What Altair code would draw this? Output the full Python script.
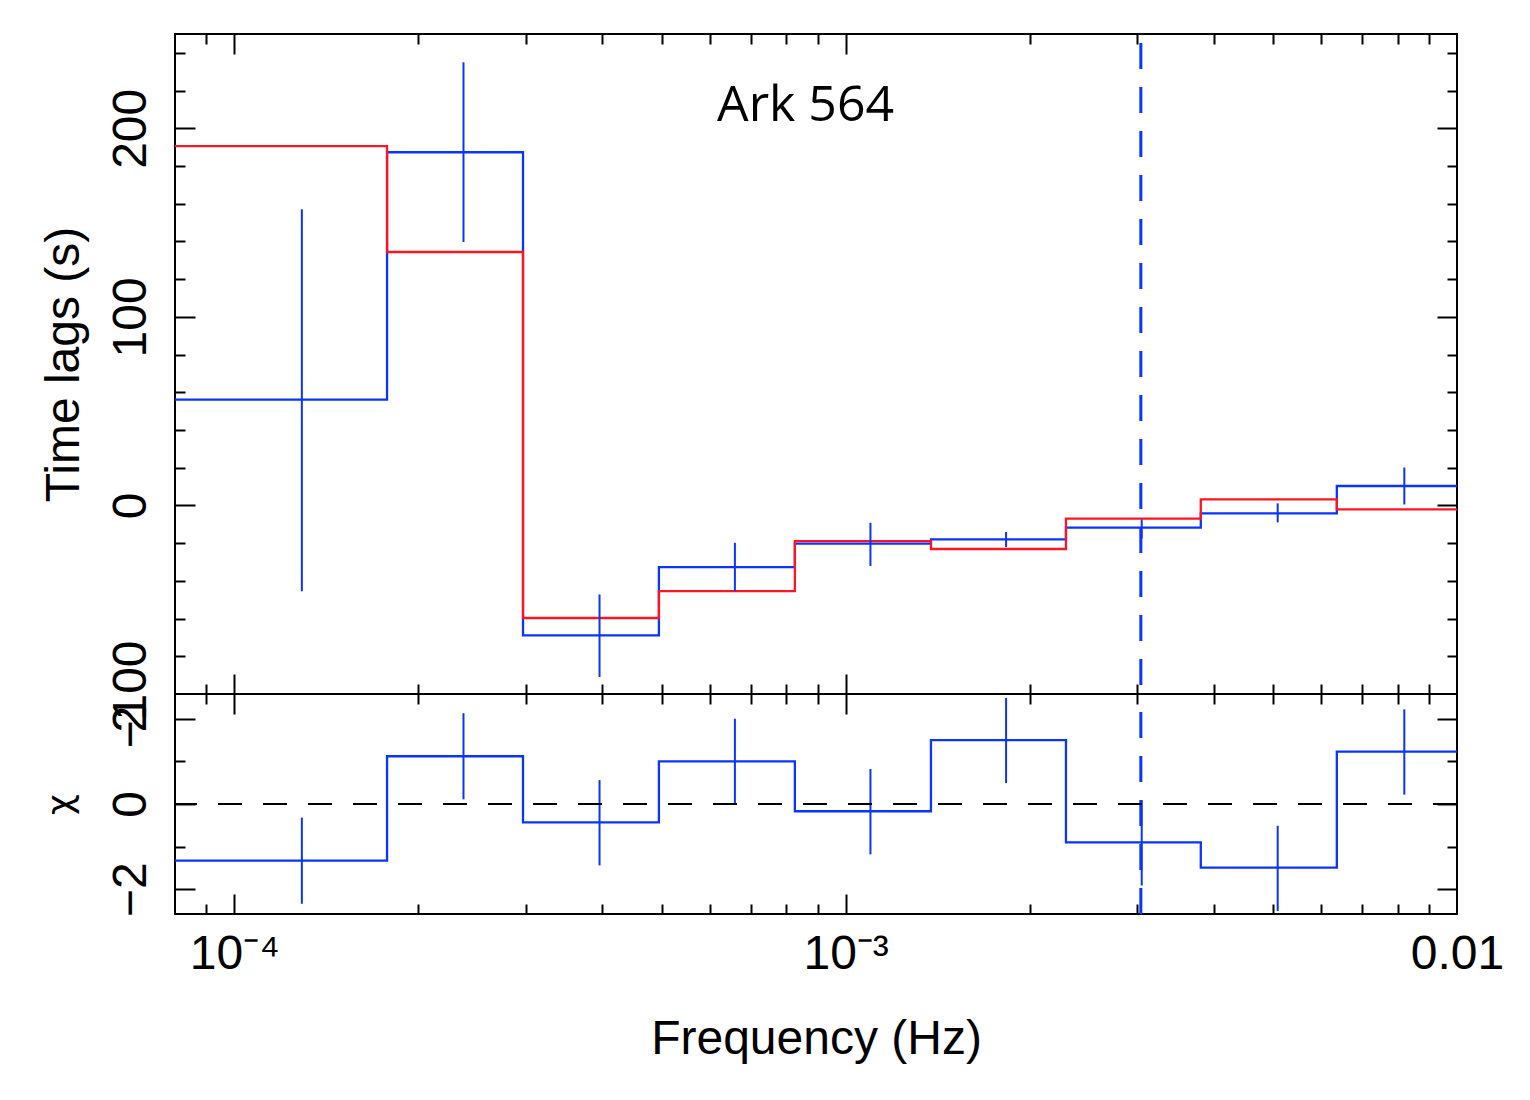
import json
import altair as alt
import pandas as pd

# ---------------- data ----------------
bin_edges = [8.0e-5, 1.778e-4, 2.967e-4, 4.95e-4, 8.26e-4, 1.379e-3, 2.293e-3, 3.81e-3, 6.36e-3, 1.0e-2]
bin_centers = [1.290e-4, 2.371e-4, 3.958e-4, 6.59e-4, 1.098e-3, 1.830e-3, 3.05e-3, 5.09e-3, 8.20e-3]

lag_data = [56.1, 187.3, -68.9, -32.7, -20.3, -18.0, -11.8, -4.2, 10.3]
lag_lo = [-45.5, 139.7, -91.0, -45.4, -32.1, -22.1, -17.5, -9.0, 0.5]
lag_hi = [157.1, 235.0, -47.2, -19.8, -9.2, -14.1, -7.4, 1.1, 20.1]
lag_model = [190.5, 134.4, -59.7, -45.4, -18.9, -23.1, -7.0, 3.2, -2.1]

chi_data = [-1.33, 1.12, -0.43, 1.00, -0.17, 1.50, -0.90, -1.49, 1.23]
chi_lo = [-2.34, 0.11, -1.44, 0.00, -1.18, 0.49, -1.91, -2.51, 0.22]
chi_hi = [-0.32, 2.13, 0.56, 2.00, 0.82, 2.49, 0.09, -0.51, 2.22]

vline_freq = [3.04e-3]
chi_zero = [0.0]

label_text = ["Ark 564"]
label_freq = [8.6e-4]
label_lag = [204.0]

x_label_values = [1e-4, 1e-3, 1e-2]
x_label_text = ["10\u207b\u2074", "10\u207b\u00b3", "0.01"]
y_top_label_values = [-100, 0, 100, 200]
y_bot_label_values = [-2, 0, 2]

x_domain = [8.0e-5, 1.0e-2]
y_top_domain = [-100, 250]
y_bot_domain = [-2.58, 2.58]

# ---------------- layout / style ----------------
W, H1, H2 = 1282, 660, 220
BLUE = "#0a34ff"
RED = "#ff1424"
FONT = "Liberation Sans"
LAB = 48
TIT = 48

x_ticks = []
for e in (-5, -4, -3):
    for m in range(1, 10):
        v = float(f"{m}e{e}")
        if x_domain[0] < v < x_domain[1]:
            x_ticks.append(v)
y_top_ticks = list(range(-80, 250, 20))
y_bot_ticks = [-2, -1, 0, 1, 2]

major_x = "abs(log(datum.value)/LN10 - round(log(datum.value)/LN10)) < 0.001"
major_y_top = "datum.value % 100 == 0"
major_y_bot = "datum.value % 2 == 0"


def tick_axis(orient, offset, values, test):
    return alt.Axis(
        orient=orient, offset=offset, values=values, labels=False, domain=False,
        title=None, grid=False, ticks=True, tickColor="black", tickWidth=2,
        tickSize={"condition": {"test": test, "value": 20}, "value": 10},
    )


def y_label_axis(values, title, tfont, tsize, tpad):
    return alt.Axis(
        orient="left", values=values, ticks=False, tickSize=0, domain=False, grid=False,
        labelAngle=270, labelAlign="center", labelBaseline="alphabetic",
        labelPadding=30, labelFont=FONT, labelFontSize=LAB, labelColor="black",
        labelFlush=False, labelOverlap=False,
        title=title, titleFont=tfont, titleFontSize=tsize, titleFontWeight="normal",
        titleColor="black", titlePadding=tpad, titleBaseline="bottom",
    )


label_expr = json.dumps(x_label_text) + "[round(log(datum.value)/LN10) + 4]"
x_label_axis = alt.Axis(
    orient="bottom", values=x_label_values, ticks=False, tickSize=0, domain=False, grid=False,
    labelExpr=label_expr, labelPadding=16, labelFont=FONT, labelFontSize=LAB,
    labelColor="black", labelFlush=False, labelOverlap=False,
    title="Frequency (Hz)", titleFont=FONT, titleFontSize=TIT, titleFontWeight="normal",
    titleColor="black", titlePadding=37,
)

xs = alt.Scale(type="log", domain=x_domain, nice=False)
ys_top = alt.Scale(domain=y_top_domain, nice=False, zero=False)
ys_bot = alt.Scale(domain=y_bot_domain, nice=False, zero=False)


def steps(vals):
    return pd.DataFrame({"f": bin_edges, "v": vals + [vals[-1]]})


err_top = pd.DataFrame({"c": bin_centers, "lo": lag_lo, "hi": lag_hi})
err_bot = pd.DataFrame({"c": bin_centers, "lo": chi_lo, "hi": chi_hi})
vline_df = pd.DataFrame({"f": vline_freq})
zero_df = pd.DataFrame({"v": chi_zero})
text_df = pd.DataFrame({"f": label_freq, "v": label_lag, "t": label_text})

# ---------------- top panel ----------------
t_blue = alt.Chart(steps(lag_data)).mark_line(
    interpolate="step-after", color=BLUE, strokeWidth=2.3
).encode(
    x=alt.X("f:Q", scale=xs, axis=tick_axis("bottom", -H1, x_ticks, major_x)),
    y=alt.Y("v:Q", scale=ys_top,
            axis=y_label_axis(y_top_label_values, "Time lags (s)", FONT, TIT, 19)),
)
t_red = alt.Chart(steps(lag_model)).mark_line(
    interpolate="step-after", color=RED, strokeWidth=2.3
).encode(
    x=alt.X("f:Q", scale=xs, axis=tick_axis("top", -H1, x_ticks, major_x)),
    y=alt.Y("v:Q", scale=ys_top, axis=tick_axis("right", -W, y_top_ticks, major_y_top)),
)
t_err = alt.Chart(err_top).mark_rule(color=BLUE, strokeWidth=2).encode(
    x=alt.X("c:Q", scale=xs, axis=None),
    y=alt.Y("lo:Q", scale=ys_top, axis=tick_axis("left", -W, y_top_ticks, major_y_top)),
    y2="hi:Q",
)
t_vline = alt.Chart(vline_df).mark_rule(
    color=BLUE, strokeWidth=3, strokeDash=[26, 18], strokeDashOffset=35
).encode(x=alt.X("f:Q", scale=xs, axis=None))
t_text = alt.Chart(text_df).mark_text(
    font="Open Sans", fontSize=50, align="center", baseline="alphabetic", color="black"
).encode(
    x=alt.X("f:Q", scale=xs, axis=None),
    y=alt.Y("v:Q", scale=ys_top, axis=None),
    text="t:N",
)
top = alt.layer(t_blue, t_red, t_err, t_vline, t_text).resolve_axis(
    x="independent", y="independent"
).properties(width=W, height=H1)

# ---------------- bottom panel ----------------
b_blue = alt.Chart(steps(chi_data)).mark_line(
    interpolate="step-after", color=BLUE, strokeWidth=2.3
).encode(
    x=alt.X("f:Q", scale=xs, axis=x_label_axis),
    y=alt.Y("v:Q", scale=ys_bot,
            axis=y_label_axis(y_bot_label_values, "\u03c7", "DejaVu Sans", 36, 28)),
)
b_err = alt.Chart(err_bot).mark_rule(color=BLUE, strokeWidth=2).encode(
    x=alt.X("c:Q", scale=xs, axis=tick_axis("bottom", -H2, x_ticks, major_x)),
    y=alt.Y("lo:Q", scale=ys_bot, axis=tick_axis("right", -W, y_bot_ticks, major_y_bot)),
    y2="hi:Q",
)
b_vline = alt.Chart(vline_df).mark_rule(
    color=BLUE, strokeWidth=3, strokeDash=[26, 18], strokeDashOffset=26
).encode(x=alt.X("f:Q", scale=xs, axis=tick_axis("top", -H2, x_ticks, major_x)))
b_zero = alt.Chart(zero_df).mark_rule(
    color="black", strokeWidth=2, strokeDash=[24, 21]
).encode(y=alt.Y("v:Q", scale=ys_bot, axis=tick_axis("left", -W, y_bot_ticks, major_y_bot)))
bottom = alt.layer(b_blue, b_err, b_vline, b_zero).resolve_axis(
    x="independent", y="independent"
).properties(width=W, height=H2)

chart = alt.vconcat(top, bottom, spacing=0, bounds="flush").properties(
    padding={"left": 31, "top": 23, "right": 10, "bottom": 10},
    background="white",
).configure_view(stroke="black", strokeWidth=2)

chart.save("out.html", embed_options={"renderer": "svg", "actions": False})
